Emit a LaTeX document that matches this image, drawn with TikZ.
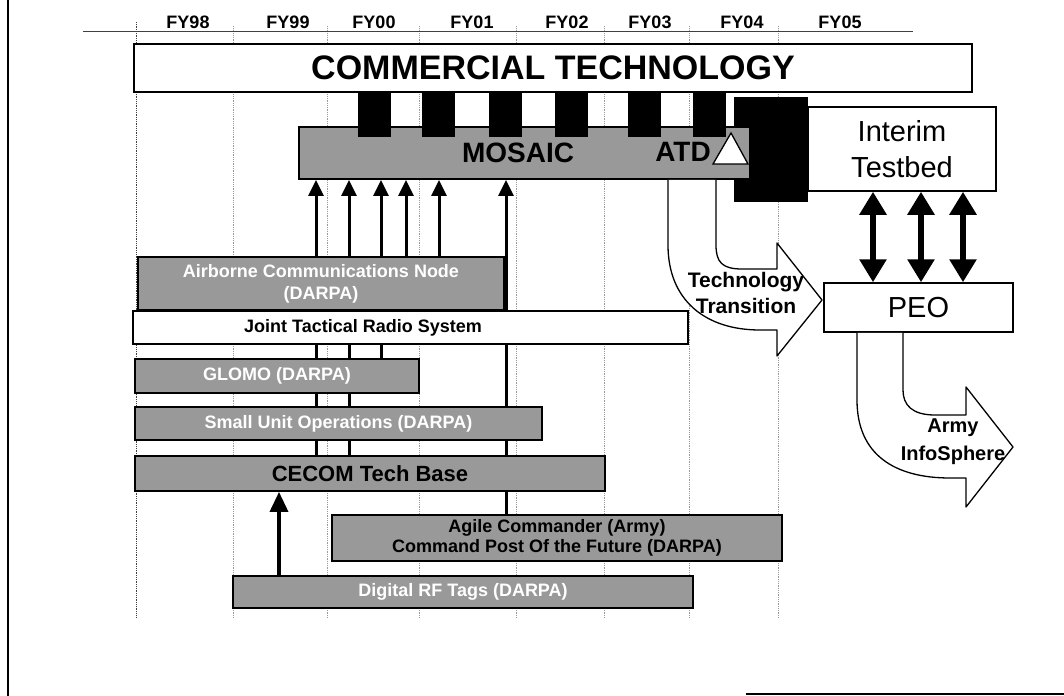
\documentclass[tikz,border=0pt]{standalone}
\usepackage{fontspec}
\setmainfont{Liberation Sans}
\usetikzlibrary{arrows.meta}
\pgfdeclarelayer{background}
\pgfsetlayers{background,main}

\tikzset{
	grid line/.style={black!40, densely dotted, line width=0.8bp},
	bar/.style={draw, line width=1.8bp, fill=black!40, inner sep=0pt, align=center, text=white, font=\fontsize{18bp}{22bp}\selectfont\bfseries},
	plainbox/.style={draw, line width=1.5bp, fill=white, inner sep=0pt, align=center, font=\fontsize{29bp}{36bp}\selectfont},
	feed/.style={line width=3bp, -{Triangle[length=16bp,width=15bp]}},
	twoway/.style={line width=6bp, {Triangle[length=23bp,width=26bp]}-{Triangle[length=23bp,width=26bp]}},
	flow/.style={draw, line width=1.3bp, fill=white, line join=round},
	flowtext/.style={font=\fontsize{21bp}{26bp}\selectfont\bfseries, align=center},
	year/.style={font=\fontsize{18bp}{20bp}\selectfont\bfseries}
}

\begin{document}
\begin{tikzpicture}[x=1bp, y=-1bp]
		%%%%% START %%%%%
		\useasboundingbox (0,0) rectangle (1064,696);
		
		% frame
		\draw[line width=2bp] (8,0) -- (8,696);
		\draw[line width=1.5bp] (746,694) -- (1064,694);
		
		% time line
		\begin{pgfonlayer}{background}
			\draw[grid line, black!75] (136,22) -- (136,618);
			\foreach \x in {233,327,419,516,604,689,778}
				\draw[grid line] (\x,26) -- (\x,618);
		\end{pgfonlayer}
		\draw[line width=1bp, black!75] (83,32) -- (913,32);
		\foreach \yr/\x in {98/188,99/288,00/374,01/472,02/567,03/650,04/742,05/840}
			\node[year] (fy\yr) at (\x,22) {FY\yr};
		
		\node[plainbox, minimum width=838bp, minimum height=48bp, font=\fontsize{34bp}{40bp}\selectfont\bfseries] (comm) at (553,68) {COMMERCIAL TECHNOLOGY};
		
		\fill (734,97) rectangle (808,202);
		
		\node[bar, minimum width=451bp, minimum height=52bp] (mosaic) at (524.5,153) {};
		\node[font=\fontsize{28bp}{32bp}\selectfont\bfseries] (mosaictext) at (518,153) {MOSAIC};
		\node[font=\fontsize{28bp}{32bp}\selectfont\bfseries] (atd) at (683,152) {ATD};
		\draw[fill=white, line width=1.3bp] (713,164) -- (748,164) -- (731,133) -- cycle;
		
		\foreach \x in {358,422,489,555,628,693}
			\fill (\x,93) rectangle ++(33,44);
		
		\node[plainbox, minimum width=188bp, minimum height=84bp] (interim) at (902,149) {Interim\\Testbed};
		\node[plainbox, minimum width=189bp, minimum height=49bp] (peo) at (918.5,307.5) {PEO};
		
		% programs
		\node[bar, minimum width=366bp, minimum height=53bp] (acn) at (321,283.5) {Airborne Communications Node\\(DARPA)};
		\node[plainbox, minimum width=555bp, minimum height=33bp] (jtrs) at (410.5,327.5) {};
		\node[font=\fontsize{18bp}{22bp}\selectfont\bfseries] (jtrstext) at (363,327.5) {Joint Tactical Radio System};
		\node[bar, minimum width=284bp, minimum height=34bp] (glomo) at (277,376) {GLOMO (DARPA)};
		\node[bar, minimum width=407bp, minimum height=33bp] (suo) at (338.5,423.5) {Small Unit Operations (DARPA)};
		\node[bar, minimum width=470bp, minimum height=35bp, text=black, font=\fontsize{22bp}{26bp}\selectfont\bfseries] (cecom) at (370,473.5) {CECOM Tech Base};
		\node[bar, minimum width=450bp, minimum height=46bp, text=black, font=\fontsize{18bp}{20bp}\selectfont\bfseries] (agile) at (557,538) {Agile Commander (Army)\\Command Post Of the Future (DARPA)};
		\node[bar, minimum width=460bp, minimum height=32bp] (drf) at (463,592) {Digital RF Tags (DARPA)};
		
		\begin{pgfonlayer}{background}
			\draw[feed] (316,0 |- cecom.north) -- (316,0 |- mosaic.south);
			\draw[feed] (349,0 |- cecom.north) -- (349,0 |- mosaic.south);
			\draw[feed] (381,0 |- glomo.north) -- (381,0 |- mosaic.south);
			\draw[feed] (406,0 |- acn.north) -- (406,0 |- mosaic.south);
			\draw[feed] (439,0 |- acn.north) -- (439,0 |- mosaic.south);
			\draw[feed] (506,0 |- agile.north) -- (506,0 |- mosaic.south);
			\draw[line width=3.5bp, -{Triangle[length=20bp,width=18bp]}] (279,0 |- drf.north) -- (279,0 |- cecom.south);
		\end{pgfonlayer}
		
		% testbed <-> PEO
		\foreach \x in {873,921,963}
			\draw[twoway] (\x,0 |- interim.south) -- (\x,0 |- peo.north);
		
		% big arrows
		\draw[flow] (668,0 |- mosaic.south) -- (668,245) .. controls (668,300) and (705,330) .. (760,330) -- (777,330) -- (777,356) -- (822,300) -- (777,243) -- (777,269) -- (742,269) .. controls (722,269) and (716,262) .. (716,245) -- (716,0 |- mosaic.south);
		\node[flowtext] (techtext) at (746,293) {Technology\\Transition};
		
		\draw[flow] (857,0 |- peo.south) -- (857,400) .. controls (857,455) and (895,478) .. (950,478) -- (966,478) -- (966,507) -- (1013,447) -- (966,387) -- (966,415) -- (935,415) .. controls (912,415) and (903,405) .. (903,390) -- (903,0 |- peo.south);
		\node[flowtext, font=\fontsize{20bp}{28bp}\selectfont\bfseries] (armytext) at (953,442) {Army\\InfoSphere};
		
		%%%%% END %%%%%
\end{tikzpicture}
\end{document}
